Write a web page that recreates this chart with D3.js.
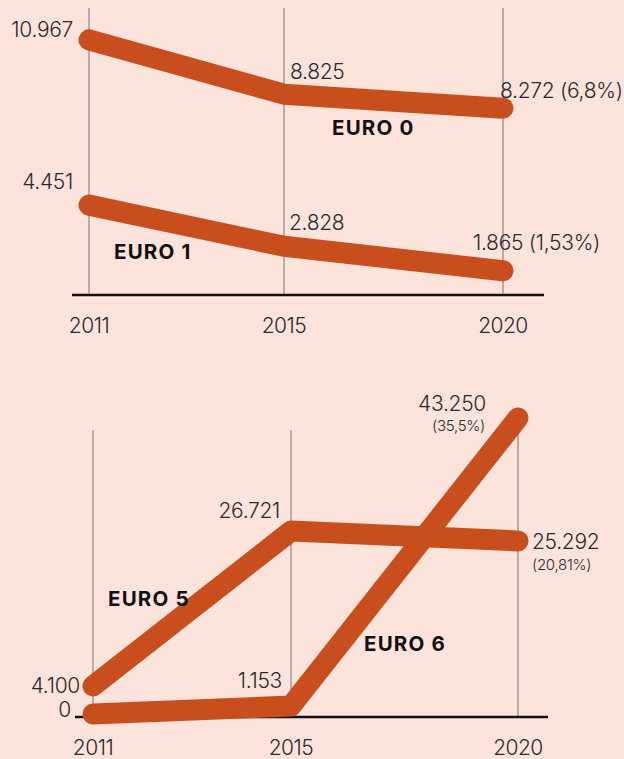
<!DOCTYPE html>
<html>
<head>
<meta charset="utf-8">
<script src="https://cdn.jsdelivr.net/npm/d3@7/dist/d3.min.js"></script>
<style>
  html, body { margin: 0; padding: 0; background: #fce3dc; }
  svg { display: block; font-family: Inter, "Open Sans", sans-serif; }
  .val { font-size: 21px; font-weight: 300; fill: #2e2a28; letter-spacing: -0.3px; }
  .share { font-size: 15px; font-weight: 300; fill: #2e2a28; letter-spacing: -0.3px; }
  .year { font-size: 21px; font-weight: 300; fill: #2e2a28; letter-spacing: -0.5px; }
  .name { font-size: 20.5px; font-weight: 700; fill: #111; letter-spacing: 1.2px; }
</style>
</head>
<body>
<svg id="chart" width="624" height="759"></svg>
<script>
// Vehicles by emission standard, 2011 / 2015 / 2020
const years = ["2011", "2015", "2020"];
const euro0 = [10967, 8825, 8272];
const euro1 = [4451, 2828, 1865];
const euro5 = [4100, 26721, 25292];
const euro6 = [0, 1153, 43250];
// share of the fleet in 2020 (%)
const share2020 = { "EURO 0": 6.8, "EURO 1": 1.53, "EURO 5": 20.81, "EURO 6": 35.5 };

const LINE = "#c94e1d";
const GRID = "#bcaaa4";

const loc = d3.formatLocale({ decimal: ",", thousands: ".", grouping: [3], currency: ["", ""] });
const fmt = loc.format(",d");
const pct = v => "(" + String(v).replace(".", ",") + "%)";

const svg = d3.select("#chart");

// year positions: 2011→2015 and 2015→2020 spans as laid out on the page
function xScale(left, mid, right) {
  return d3.scaleOrdinal().domain(years).range([left, mid, right]);
}

const line = (x, y) => d3.line().x((d, i) => x(years[i])).y(d => y(d));

function drawPanel(g, x, y, gridTop, axisY, axisX0, axisX1, yearBaseline) {
  g.append("g").selectAll("line").data(years).join("line")
    .attr("x1", d => x(d)).attr("x2", d => x(d))
    .attr("y1", gridTop).attr("y2", axisY)
    .attr("stroke", GRID).attr("stroke-width", 2);
  g.append("line")
    .attr("x1", axisX0).attr("x2", axisX1).attr("y1", axisY).attr("y2", axisY)
    .attr("stroke", "#111").attr("stroke-width", 2.5);
  g.append("g").selectAll("text").data(years).join("text")
    .attr("class", "year").attr("text-anchor", "middle")
    .attr("x", d => x(d)).attr("y", yearBaseline).text(d => d);
}

function drawSeries(g, x, y, values) {
  g.append("path").datum(values)
    .attr("d", line(x, y))
    .attr("fill", "none").attr("stroke", LINE).attr("stroke-width", 21)
    .attr("stroke-linecap", "round").attr("stroke-linejoin", "round");
}

function label(g, x, y, values, i, dx, dy, anchor, text, cls) {
  g.append("text").attr("class", cls || "val")
    .attr("x", x(years[i]) + dx).attr("y", y(values[i]) + dy)
    .attr("text-anchor", anchor).text(text);
}

// ---------- top panel: EURO 0 / EURO 1 ----------
const xT = xScale(89, 284, 503);
const yT = d3.scaleLinear().domain([0, 11000]).range([318, 39]);
const gT = svg.append("g");
drawPanel(gT, xT, yT, 8, 295, 72, 544, 333);
drawSeries(gT, xT, yT, euro0);
drawSeries(gT, xT, yT, euro1);

label(gT, xT, yT, euro0, 0, -16, -3, "end", fmt(euro0[0]));
label(gT, xT, yT, euro0, 1, 6, -15, "start", fmt(euro0[1]));
label(gT, xT, yT, euro0, 2, -3, -10, "start", fmt(euro0[2]) + " " + pct(share2020["EURO 0"]));
label(gT, xT, yT, euro1, 0, -16, -16, "end", fmt(euro1[0]));
label(gT, xT, yT, euro1, 1, 5, -16, "start", fmt(euro1[1]));
label(gT, xT, yT, euro1, 2, -30, -21, "start", fmt(euro1[2]) + " " + pct(share2020["EURO 1"]));

gT.append("text").attr("class", "name").attr("x", xT("2015") + 48).attr("y", yT(euro0[1]) + 41).text("EURO 0");
gT.append("text").attr("class", "name").attr("x", xT("2011") + 25).attr("y", yT(euro1[0]) + 54).text("EURO 1");

// ---------- bottom panel: EURO 5 / EURO 6 ----------
const xB = xScale(93, 291, 518);
const yB = d3.scaleLinear().domain([0, 45000]).range([714, 406]);
const gB = svg.append("g");
drawPanel(gB, xB, yB, 430, 717, 75, 548, 755);
drawSeries(gB, xB, yB, euro5);
drawSeries(gB, xB, yB, euro6);

label(gB, xB, yB, euro5, 0, -13, 7, "end", fmt(euro5[0]));
label(gB, xB, yB, euro5, 1, -11, -13, "end", fmt(euro5[1]));
label(gB, xB, yB, euro5, 2, 14, 8, "start", fmt(euro5[2]));
label(gB, xB, yB, euro5, 2, 14, 29, "start", pct(share2020["EURO 5"]), "share");
label(gB, xB, yB, euro6, 0, -22, 3, "end", fmt(euro6[0]));
label(gB, xB, yB, euro6, 1, -9, -18, "end", fmt(euro6[1]));
label(gB, xB, yB, euro6, 2, -32, -7, "end", fmt(euro6[2]));
label(gB, xB, yB, euro6, 2, -33, 13, "end", pct(share2020["EURO 6"]), "share");

gB.append("text").attr("class", "name").attr("x", xB("2011") + 15).attr("y", 606).text("EURO 5");
gB.append("text").attr("class", "name").attr("x", xB("2015") + 73).attr("y", 651).text("EURO 6");
</script>
</body>
</html>
